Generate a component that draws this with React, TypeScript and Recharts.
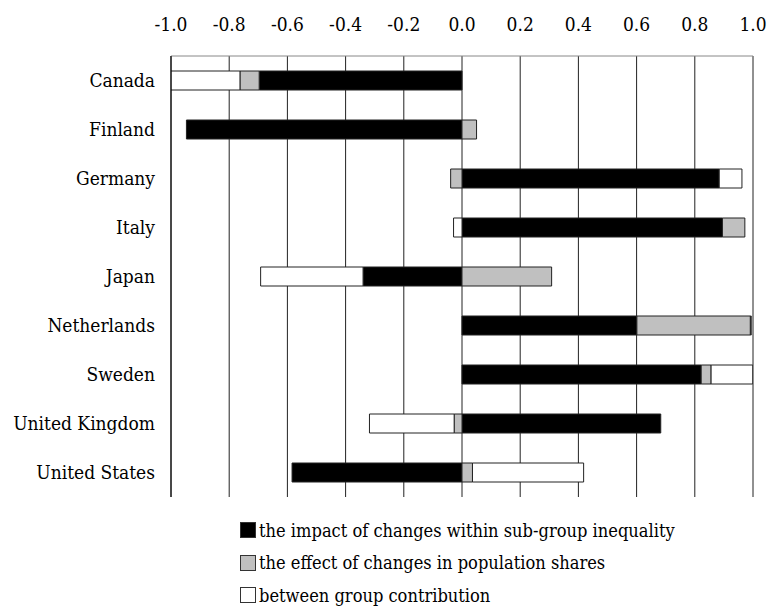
import React from "react";
import {
  BarChart,
  Bar,
  XAxis,
  YAxis,
  CartesianGrid,
  Legend,
} from "recharts";

// countries, top to bottom
const countries = [
  "Canada",
  "Finland",
  "Germany",
  "Italy",
  "Japan",
  "Netherlands",
  "Sweden",
  "United Kingdom",
  "United States",
];

const withinGroup = [-0.697, -0.947, 0.884, 0.895, -0.34, 0.601, 0.822, 0.683, -0.584];
const popShares = [-0.066, 0.05, -0.039, 0.077, 0.308, 0.39, 0.034, -0.027, 0.036];
const betweenGroup = [-0.237, 0, 0.078, -0.029, -0.352, 0.003, 0.143, -0.291, 0.382];

const xTicks = [-1, -0.8, -0.6, -0.4, -0.2, 0, 0.2, 0.4, 0.6, 0.8, 1];

const seriesInfo = [
  { key: "within", label: "the impact of changes within sub-group inequality", color: "#000000" },
  { key: "shares", label: "the effect of changes in population shares", color: "#c0c0c0" },
  { key: "between", label: "between group contribution", color: "#ffffff" },
];

// no Times here, the condensed DejaVu serif is the closest in width
const FONT = "'DejaVu Serif Condensed', 'DejaVu Serif', serif";

const data = countries.map((name, i) => ({
  name,
  within: withinGroup[i],
  shares: popShares[i],
  between: betweenGroup[i],
}));

function LegendBox() {
  return (
    <div style={{ fontSize: 18.1, color: "#000", fontFamily: FONT }}>
      {seriesInfo.map((s) => (
        <div
          key={s.key}
          style={{ display: "flex", alignItems: "center", height: 32.5, whiteSpace: "nowrap" }}
        >
          <span
            style={{
              display: "inline-block",
              width: 14,
              height: 14,
              background: s.color,
              border: "1px solid #333",
              marginRight: 3,
            }}
          />
          <span>{s.label}</span>
        </div>
      ))}
    </div>
  );
}

export default function App() {
  return (
    <div style={{ position: "absolute", left: 0, top: 0, width: 769, height: 606, background: "#fff" }}>
      <BarChart
        width={769}
        height={606}
        data={data}
        layout="vertical"
        stackOffset="sign"
        barSize={19}
        margin={{ top: 0, right: 16, left: 0, bottom: 109 }}
      >
        <CartesianGrid horizontal={false} vertical={true} stroke="#222" />
        <XAxis
          type="number"
          orientation="top"
          domain={[-1, 1]}
          ticks={xTicks}
          allowDataOverflow
          height={56}
          tickLine={false}
          tickSize={0}
          tickMargin={25}
          axisLine={{ stroke: "#888" }}
          tickFormatter={(v: number) => v.toFixed(1)}
          tick={{ fill: "#000", fontFamily: FONT, fontSize: 19 }}
        />
        <XAxis
          xAxisId="bottom"
          type="number"
          orientation="bottom"
          domain={[-1, 1]}
          height={0}
          tick={false}
          tickLine={false}
          axisLine={{ stroke: "#000", strokeWidth: 2 }}
        />
        <YAxis
          type="category"
          dataKey="name"
          width={171}
          tickLine={false}
          tickSize={0}
          tickMargin={16}
          axisLine={{ stroke: "#000" }}
          tick={{ fill: "#000", fontFamily: FONT, fontSize: 19 }}
        />
        <Legend
          layout="horizontal"
          verticalAlign="middle"
          align="center"
          content={() => <LegendBox />}
          wrapperStyle={{ left: 240, top: 514, width: 520 }}
        />
        {seriesInfo.map((s) => (
          <Bar
            key={s.key}
            dataKey={s.key}
            name={s.label}
            stackId="a"
            fill={s.color}
            stroke="#222"
            strokeWidth={1}
            isAnimationActive={false}
          />
        ))}
      </BarChart>
    </div>
  );
}
